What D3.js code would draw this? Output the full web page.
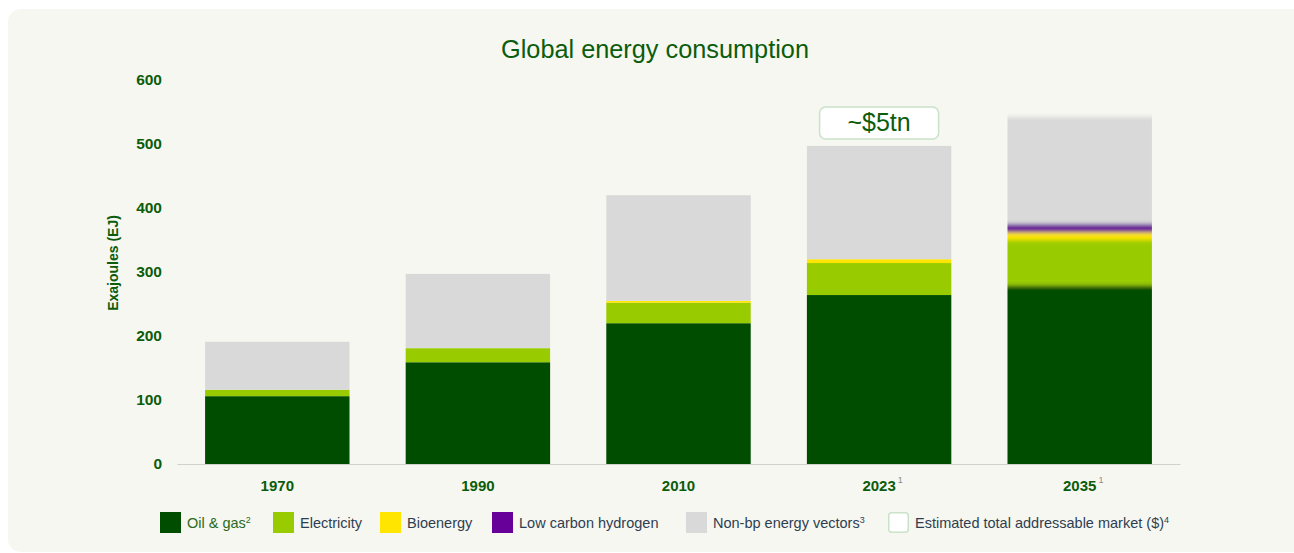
<!DOCTYPE html>
<html>
<head>
<meta charset="utf-8">
<script src="https://cdn.jsdelivr.net/npm/d3@7"></script>
<style>
  html, body { margin: 0; padding: 0; background: #fff; }
  svg { display: block; font-family: "Liberation Sans", Arial, sans-serif; }
</style>
</head>
<body>
<main></main>
<script>
// data (EJ)
var years = ['1970', '1990', '2010', '2023', '2035'];
var yearNotes = ['', '', '', '1', '1'];
var oilGas = [106, 159, 220, 264, 279];
var electricity = [10, 22, 32, 50, 71];
var bioenergy = [0, 0, 3, 6, 12];
var hydrogen = [0, 0, 0, 0, 13];
var nonBp = [75, 116, 165, 177, 167];
var marketLabels = ['', '', '', '~$5tn', ''];
var yTicks = [0, 100, 200, 300, 400, 500, 600];

var seriesNames = ['Oil & gas', 'Electricity', 'Bioenergy', 'Low carbon hydrogen', 'Non-bp energy vectors'];
var seriesNotes = ['2', '', '', '', '3'];
var seriesColors = ['#004d00', '#99cc00', '#ffe500', '#660099', '#d9d9d9'];

!function(){
    var W = 1294, H = 553;
    var green = '#0b5c0b';

    var svg = d3.select('main').append('svg')
        .attr('width', W)
        .attr('height', H);

    // panel
    svg.append('rect')
        .attr('x', 8).attr('y', 9)
        .attr('width', W - 8 + 14).attr('height', H - 9 - 1)
        .attr('rx', 13)
        .attr('fill', '#f6f7f0');

    svg.append('text')
        .attr('x', 655).attr('y', 58)
        .attr('text-anchor', 'middle')
        .attr('font-size', 25.3)
        .attr('fill', green)
        .text('Global energy consumption');

    var x = d3.scaleBand().domain(years).range([177, 1180])
        .paddingInner(0.28).paddingOuter(0.14);
    var y = d3.scaleLinear().domain([0, 600]).range([464, 80]);

    var rows = years.map(function(yr, i){
        return { year: yr, oil: oilGas[i], elec: electricity[i], bio: bioenergy[i], h2: hydrogen[i], non: nonBp[i] };
    });
    var keys = ['oil', 'elec', 'bio', 'h2', 'non'];
    var stacked = d3.stack().keys(keys)(rows);

    // y axis
    var yAxis = d3.axisLeft(y).tickValues(yTicks).tickSize(0).tickPadding(0);
    var gy = svg.append('g')
        .attr('transform', 'translate(162,0)')
        .call(yAxis);
    gy.select('.domain').remove();
    gy.selectAll('text')
        .attr('font-size', 15.5)
        .attr('font-weight', 'bold')
        .attr('font-family', '"Liberation Sans", Arial, sans-serif')
        .attr('fill', green);

    svg.append('text')
        .attr('transform', 'translate(118,263) rotate(-90)')
        .attr('text-anchor', 'middle')
        .attr('font-size', 14)
        .attr('font-weight', 'bold')
        .attr('fill', green)
        .text('Exajoules (EJ)');

    // soft edges for the projected year
    var defs = svg.append('defs');
    defs.append('filter')
        .attr('id', 'soft')
        .attr('x', '-5%').attr('y', '-10%')
        .attr('width', '110%').attr('height', '120%')
        .append('feGaussianBlur')
        .attr('stdDeviation', '0 2.2');
    defs.append('clipPath').attr('id', 'clipBase')
        .append('rect')
        .attr('x', 0).attr('y', 0)
        .attr('width', W).attr('height', y(0));

    var bars = svg.append('g').attr('clip-path', 'url(#clipBase)');
    years.forEach(function(yr, i){
        var g = bars.append('g');
        var soft = i === years.length - 1;
        if (soft) g.attr('filter', 'url(#soft)');
        stacked.forEach(function(s, k){
            var d = s[i];
            if (d[1] - d[0] <= 0) return;
            // blurred bar runs a little past the baseline so the clip keeps its bottom sharp
            var extra = (soft && k === 0) ? 12 : 0;
            g.append('rect')
                .attr('x', x(yr))
                .attr('width', x.bandwidth())
                .attr('y', y(d[1]))
                .attr('height', y(d[0]) - y(d[1]) + extra)
                .attr('fill', seriesColors[k]);
        });
    });

    // x axis
    var xAxis = d3.axisBottom(x).tickSize(0).tickPadding(0);
    var gx = svg.append('g')
        .attr('transform', 'translate(0,' + y(0) + ')')
        .call(xAxis);
    gx.select('.domain').attr('stroke', '#d0d0cc').attr('stroke-width', 1);
    gx.selectAll('text').remove();
    years.forEach(function(yr, i){
        var t = svg.append('text')
            .attr('x', x(yr) + x.bandwidth() / 2)
            .attr('y', 491)
            .attr('text-anchor', 'middle')
            .attr('font-size', 15)
            .attr('font-weight', 'bold')
            .attr('fill', green)
            .text(yr);
        if (yearNotes[i]) {
            var bb = t.node().getBBox();
            svg.append('text')
                .attr('x', bb.x + bb.width + 2)
                .attr('y', 483)
                .attr('font-size', 9)
                .attr('fill', '#8a8a8a')
                .text(yearNotes[i]);
        }
    });

    // market annotation
    years.forEach(function(yr, i){
        if (!marketLabels[i]) return;
        var total = oilGas[i] + electricity[i] + bioenergy[i] + hydrogen[i] + nonBp[i];
        var cx = x(yr) + x.bandwidth() / 2;
        var bottom = y(total) - 7;
        svg.append('rect')
            .attr('x', cx - 59.5).attr('y', bottom - 32)
            .attr('width', 119).attr('height', 32)
            .attr('rx', 6)
            .attr('fill', '#fff')
            .attr('stroke', '#c9e2c9')
            .attr('stroke-width', 1.5);
        svg.append('text')
            .attr('x', cx).attr('y', bottom - 8)
            .attr('text-anchor', 'middle')
            .attr('font-size', 25)
            .attr('fill', green)
            .text(marketLabels[i]);
    });

    // legend
    var legendX = [160, 273, 380, 492, 686, 888];
    var legendItems = seriesNames.map(function(n, k){
        return { name: n, note: seriesNotes[k], color: seriesColors[k], outline: false };
    });
    legendItems.push({ name: 'Estimated total addressable market ($)', note: '4', color: '#fff', outline: true });
    legendItems.forEach(function(it, k){
        var g = svg.append('g').attr('transform', 'translate(' + legendX[k] + ',512)');
        g.append('rect')
            .attr('x', it.outline ? 0.75 : 0).attr('y', it.outline ? 0.75 : 0)
            .attr('width', it.outline ? 19.5 : 21).attr('height', it.outline ? 19.5 : 21)
            .attr('rx', it.outline ? 3 : 0)
            .attr('fill', it.color)
            .attr('stroke', it.outline ? '#c9e2c9' : 'none')
            .attr('stroke-width', 1.5);
        var t = g.append('text')
            .attr('x', 27).attr('y', 16)
            .attr('font-size', 14.5)
            .attr('fill', k === 0 ? '#2a6a22' : '#2e3e50')
            .text(it.name);
        if (it.note) {
            t.append('tspan')
                .attr('dy', -5)
                .attr('font-size', 9)
                .text(it.note);
        }
    });
}();
</script>
</body>
</html>
